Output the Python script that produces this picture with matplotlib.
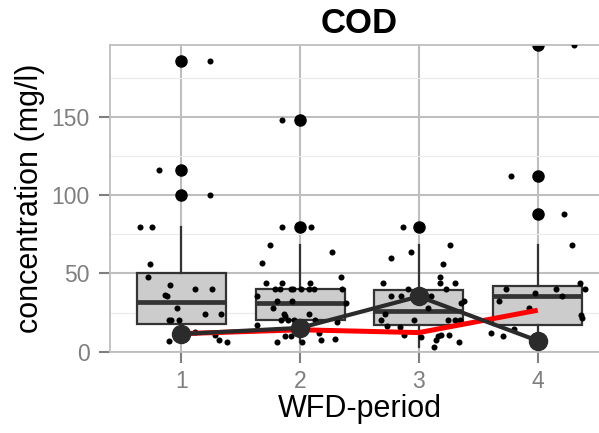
import matplotlib

matplotlib.use("Agg")
import matplotlib.pyplot as plt
from matplotlib.ticker import MultipleLocator

plt.rcParams["font.family"] = ["Liberation Sans", "DejaVu Sans"]

# COD concentrations per WFD period
periods = [1, 2, 3, 4]
tick_labels = ["1", "2", "3", "4"]

# box statistics (mg/l)
box_q1 = [18, 20.3, 17.3, 17.3]
box_median = [32, 31.4, 25.8, 35.3]
box_q3 = [50, 40, 39.7, 41.7]
whisker_low = [6, 6, 3.2, 10]
whisker_high = [80, 68, 68, 68]
outliers = [[100, 116, 186], [80, 148], [80], [88, 112, 196]]

# individual samples and their horizontal jitter
samples = [
    [80, 80, 55.9, 48, 42.9, 39.9, 39.9, 36.3, 35.6, 28.2, 23.9, 23.9,
     20.1, 20.1, 20.1, 12.8, 10.7, 7.5, 7.0, 6.0, 116, 186, 100],
    [80, 80, 68.3, 64, 56.6, 48, 44.2, 44.2, 44.2, 39.9, 39.9, 39.9, 39.9,
     39.9, 39.9, 39.9, 39.9, 35.6, 32.6, 32.6, 31, 28.2, 23.9, 22.8, 23.9,
     20.3, 20.3, 20.3, 20.3, 17.1, 18.8, 10.0, 10.0, 12.2, 6.0, 6.0, 7.5,
     8.1, 148],
    [80, 68.3, 64, 59.8, 56.1, 48, 44.2, 44.2, 44.2, 39.9, 39.9, 35.8,
     35.8, 35.8, 31.4, 32.4, 28.2, 24.1, 20.3, 20.3, 20.3, 20.3, 20.3,
     16.7, 16.0, 10.7, 9.6, 10.0, 10.5, 10.7, 7.5, 3.2, 6.0],
    [88.1, 68.3, 44.2, 39.9, 39.9, 39.9, 37.8, 35.6, 32.4, 27.7, 23.5,
     21.8, 14.5, 11.7, 10.0, 112, 196],
]
jitter = [
    [-0.351, -0.247, -0.261, -0.284, -0.093, 0.115, 0.261, -0.14, -0.12,
     -0.034, 0.202, 0.337, -0.107, -0.09, -0.02, 0.112, 0.28, 0.317,
     -0.107, 0.384, -0.19, 0.239, 0.244],
    [-0.149, 0.09, -0.25, 0.27, -0.317, 0.343, -0.284, -0.154, 0.081,
     -0.213, -0.169, -0.073, -0.059, 0.011, 0.073, 0.118, 0.357, -0.36,
     -0.194, -0.065, 0.39, -0.227, -0.135, -0.124, 0.073, -0.157, -0.101,
     -0.051, 0.129, -0.36, 0.314, -0.129, -0.073, 0.157, -0.191, 0.02,
     0.174, 0.297, -0.152],
    [-0.135, 0.259, -0.067, -0.236, 0.202, 0.174, 0.174, -0.306, 0.301,
     -0.093, 0.23, -0.236, -0.149, 0.101, 0.357, 0.376, 0.076, -0.284,
     -0.317, -0.045, 0.242, 0.301, 0.343, -0.27, -0.163, -0.129, 0.02,
     0.16, 0.188, 0.25, 0.146, 0.129, 0.34],
    [0.225, 0.292, 0.357, 0.399, -0.267, 0.157, -0.022, 0.208, -0.323,
     -0.073, 0.365, 0.371, -0.197, -0.396, -0.295, -0.227, 0.306],
]

# per-period summary lines
red_line = [11.5, 14, 12.2, 26.5]
dark_line = [11.3, 15.2, 35.3, 7]

grid_color = "#bebebe"
tick_color = "#7f7f7f"

fig = plt.figure(figsize=(5.99, 4.33), dpi=100)
ax = fig.add_axes([0.1836, 0.1878, 0.8331, 0.7083])

stats = [
    {
        "q1": box_q1[i],
        "med": box_median[i],
        "q3": box_q3[i],
        "whislo": whisker_low[i],
        "whishi": whisker_high[i],
        "fliers": outliers[i],
    }
    for i in range(len(periods))
]
ax.bxp(
    stats,
    positions=periods,
    widths=0.75,
    patch_artist=True,
    showcaps=False,
    boxprops={"facecolor": "#cccccc", "edgecolor": "#333333", "linewidth": 1.6},
    medianprops={"color": "#333333", "linewidth": 3.4},
    whiskerprops={"color": "#333333", "linewidth": 1.6},
    flierprops={"marker": "o", "markerfacecolor": "black",
                "markeredgecolor": "black", "markersize": 8},
    zorder=2,
)

for p, vals, offs in zip(periods, samples, jitter):
    ax.scatter([p + o for o in offs], vals, s=19, color="black",
               linewidths=0, zorder=3)

ax.plot(periods, red_line, color="red", linewidth=3.6, zorder=4,
        solid_capstyle="butt")
ax.plot(periods, dark_line, color="#2b2b2b", linewidth=3, marker="o",
        markersize=13, zorder=5)

ax.set_xlim(0.4, 4.6)
ax.set_ylim(0, 196)
ax.set_xticks(periods)
ax.set_xticklabels(tick_labels)
ax.yaxis.set_major_locator(MultipleLocator(50))
ax.yaxis.set_minor_locator(MultipleLocator(25))

ax.set_axisbelow(True)
ax.grid(True, which="major", color=grid_color, linewidth=1.5)
ax.grid(True, which="minor", axis="y", color="#ebebeb", linewidth=0.8)
for spine in ax.spines.values():
    spine.set_color(grid_color)
    spine.set_linewidth(1.3)

ax.tick_params(axis="both", which="major", colors=tick_color, labelsize=16.5,
               length=8, width=1.5)
ax.tick_params(axis="x", pad=5)
ax.tick_params(axis="y", pad=6.5)
ax.tick_params(which="minor", length=0)

ax.set_title("COD", fontsize=25, fontweight="bold", pad=8.5)
ax.set_xlabel("WFD-period", fontsize=22, labelpad=1)
ax.set_ylabel("concentration (mg/l)", fontsize=22, labelpad=5)

fig.savefig("out.png", dpi=100)
